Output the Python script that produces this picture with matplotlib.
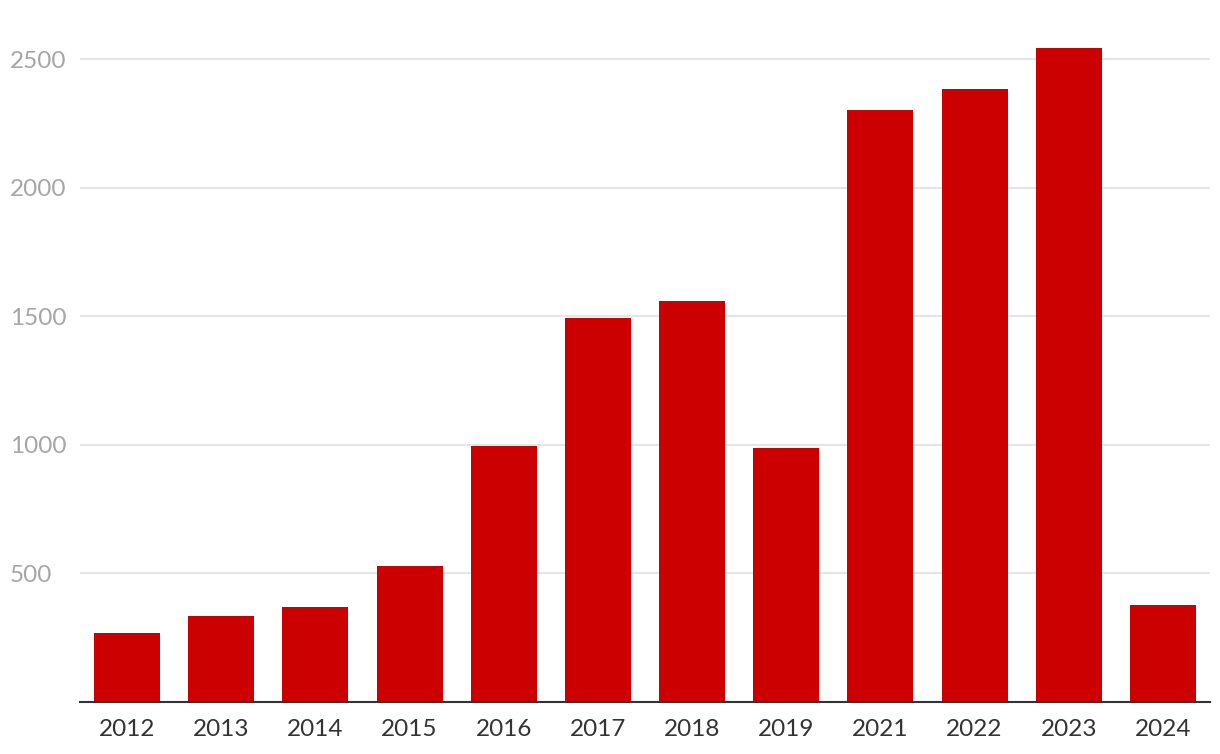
import matplotlib

matplotlib.use("Agg")

import matplotlib.pyplot as plt

years = ["2012", "2013", "2014", "2015", "2016", "2017", "2018", "2019", "2021", "2022", "2023", "2024"]
counts = [268, 335, 370, 529, 996, 1494, 1560, 988, 2303, 2385, 2545, 377]
y_ticks = [500, 1000, 1500, 2000, 2500]

plt.rcParams["font.family"] = ["Lato", "DejaVu Sans"]

fig = plt.figure(figsize=(12.2, 7.54), dpi=100)
ax = fig.add_axes([80 / 1220, 52 / 754, 1130 / 1220, 694 / 754])

positions = range(len(years))
ax.bar(positions, counts, width=0.7, color="#cc0000", zorder=2)

ax.set_xlim(-0.5, len(years) - 0.5)
ax.set_ylim(0, 2700)
ax.set_xticks(list(positions))
ax.set_xticklabels(years, fontsize=17.5, color="#333333")
ax.set_yticks(y_ticks)
ax.set_yticklabels([str(v) for v in y_ticks], fontsize=17.5, color="#a6a6a6", ha="left")
# pad is in points: 70 px at 100 dpi
ax.tick_params(axis="y", length=0, pad=50.4)
ax.tick_params(axis="x", length=0, pad=12)
ax.grid(axis="y", color="#e6e6e6", linewidth=1.5, zorder=0)

for side in ["top", "right", "left"]:
    ax.spines[side].set_visible(False)
ax.spines["bottom"].set_color("#333333")
ax.spines["bottom"].set_linewidth(1.5)
ax.spines["bottom"].set_zorder(3)

fig.savefig("out.png", dpi=100)
plt.close(fig)
